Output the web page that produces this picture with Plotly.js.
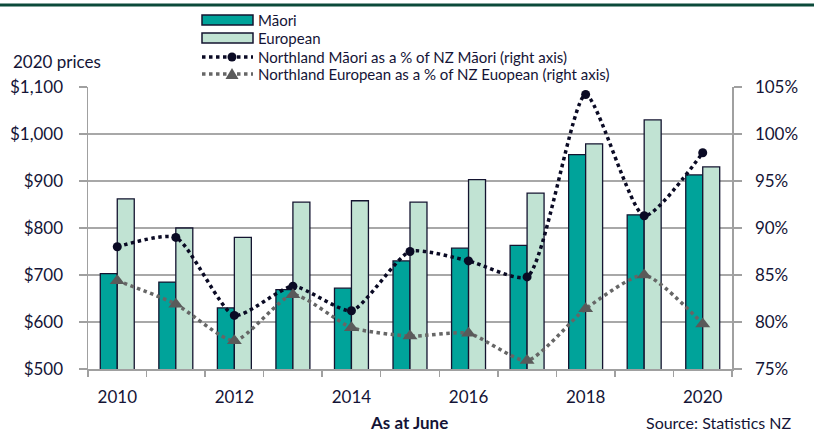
<!DOCTYPE html>
<html>
<head>
<meta charset="utf-8">
<script src="https://cdn.plot.ly/plotly-3.0.1.min.js"></script>
<style>html,body{margin:0;padding:0;background:#fff;}#chart{width:814px;height:434px;}</style>
</head>
<body>
<div id="chart"></div>
<script>
var years = [2010, 2011, 2012, 2013, 2014, 2015, 2016, 2017, 2018, 2019, 2020];
var maoriIncome = [703, 685, 630, 669, 672, 730, 757, 763, 956, 828, 913];
var europeanIncome = [862, 800, 780, 855, 858, 855, 903, 874, 979, 1030, 930];
var northlandMaoriPct = [88.0, 89.0, 80.7, 83.8, 81.2, 87.5, 86.5, 84.8, 104.2, 91.3, 98.0];
var northlandEuropeanPct = [84.4, 81.9, 78.0, 82.9, 79.4, 78.5, 78.8, 75.9, 81.4, 85.0, 79.8];
var xTickYears = [2010, 2012, 2014, 2016, 2018, 2020];
var seriesNames = ['Māori', 'European',
  'Northland Māori as a % of NZ Māori (right axis)',
  'Northland European as a % of NZ Euopean (right axis)'];

var textColor = '#141436';
var fontFam = 'Lato, "Open Sans", sans-serif';
var maoriColor = '#00A39A', euroColor = '#C1E3D3', barLine = '#141430';
var maoriLineColor = '#0a0a24', euroLineColor = '#666666', euroMarkerColor = '#5a5a5a';

// plot area geometry (pixels) used only to place the hand-made legend/annotations
var W = 814, H = 434, ML = 88, MR = 82, MT = 87, MB = 65;
var PW = W - ML - MR, PH = H - MT - MB;
function xp(px) { return (px - ML) / PW; }
function yp(py) { return (H - MB - py) / PH; }

var traces = [
  {type: 'bar', name: seriesNames[0], x: years, y: maoriIncome, showlegend: false,
   marker: {color: maoriColor, line: {color: barLine, width: 1.3}}},
  {type: 'bar', name: seriesNames[1], x: years, y: europeanIncome, showlegend: false,
   marker: {color: euroColor, line: {color: barLine, width: 1.3}}},
  {type: 'scatter', mode: 'lines+markers', name: seriesNames[2], showlegend: false,
   x: years, y: northlandMaoriPct, yaxis: 'y2',
   line: {color: maoriLineColor, width: 3.5, dash: 'dot', shape: 'spline', smoothing: 0.6},
   marker: {symbol: 'circle', size: 9, color: maoriLineColor}},
  {type: 'scatter', mode: 'lines+markers', name: seriesNames[3], showlegend: false,
   x: years, y: northlandEuropeanPct, yaxis: 'y2',
   line: {color: euroLineColor, width: 3.5, dash: 'dot', shape: 'spline', smoothing: 0.6},
   marker: {symbol: 'triangle-up', size: 13, color: euroMarkerColor}}
];

// legend rows (hand-built so the symbols match the original's wide swatches)
var legRows = [20, 38, 57, 74];
var symX0 = 202, symX1 = 253, markX = 232, textX = 259;
var shapes = [
  {type: 'line', xref: 'paper', yref: 'paper', x0: xp(-5), x1: xp(W + 5), y0: yp(5), y1: yp(5),
   line: {color: '#0b4a3a', width: 3}},
  {type: 'rect', xref: 'paper', yref: 'paper', x0: xp(symX0), x1: xp(symX1), y0: yp(legRows[0] + 5), y1: yp(legRows[0] - 5),
   fillcolor: maoriColor, line: {color: barLine, width: 1.5}},
  {type: 'rect', xref: 'paper', yref: 'paper', x0: xp(symX0), x1: xp(symX1), y0: yp(legRows[1] + 5), y1: yp(legRows[1] - 5),
   fillcolor: euroColor, line: {color: barLine, width: 1.5}},
  {type: 'line', xref: 'paper', yref: 'paper', x0: xp(symX0), x1: xp(symX1), y0: yp(legRows[2]), y1: yp(legRows[2]),
   line: {color: maoriLineColor, width: 3.5, dash: 'dot'}},
  {type: 'circle', xref: 'paper', yref: 'paper', x0: xp(markX - 4.5), x1: xp(markX + 4.5), y0: yp(legRows[2] + 4.5), y1: yp(legRows[2] - 4.5),
   fillcolor: maoriLineColor, line: {width: 0}},
  {type: 'line', xref: 'paper', yref: 'paper', x0: xp(symX0), x1: xp(symX1), y0: yp(legRows[3]), y1: yp(legRows[3]),
   line: {color: euroLineColor, width: 3.5, dash: 'dot'}},
  {type: 'path', xref: 'paper', yref: 'paper',
   path: 'M' + xp(markX) + ',' + yp(legRows[3] - 6) + ' L' + xp(markX - 6.5) + ',' + yp(legRows[3] + 5) + ' L' + xp(markX + 6.5) + ',' + yp(legRows[3] + 5) + ' Z',
   fillcolor: euroMarkerColor, line: {width: 0}}
];

var annotations = [
  {text: '2020 prices', xref: 'paper', yref: 'paper', x: xp(11), y: yp(62), xanchor: 'left', yanchor: 'middle',
   showarrow: false, font: {size: 17, color: textColor}},
  {text: 'As at June', xref: 'paper', yref: 'paper', x: xp(409), y: yp(422), xanchor: 'center', yanchor: 'middle',
   showarrow: false, font: {size: 17, color: textColor, weight: 'bold'}},
  {text: 'Source: Statistics NZ', xref: 'paper', yref: 'paper', x: xp(794), y: yp(422), xanchor: 'right', yanchor: 'middle',
   showarrow: false, font: {size: 16, color: textColor}}
];
for (var i = 0; i < seriesNames.length; i++) {
  annotations.push({text: seriesNames[i], xref: 'paper', yref: 'paper', x: xp(textX - 3), y: yp(legRows[i]),
    xanchor: 'left', yanchor: 'middle', showarrow: false, font: {size: 15, color: textColor}});
}

var layout = {
  width: W, height: H,
  margin: {l: ML, r: MR, t: MT, b: MB},
  paper_bgcolor: '#ffffff', plot_bgcolor: '#ffffff',
  font: {family: fontFam, color: textColor, size: 17},
  barmode: 'group', bargap: 0.42, bargroupgap: 0,
  showlegend: false,
  xaxis: {range: [2009.5, 2020.5], tickvals: xTickYears, ticktext: xTickYears.map(String),
          ticks: '', showgrid: false, zeroline: false, showline: true, linecolor: '#a0a0a0', linewidth: 1.5,
          tickfont: {size: 17, color: textColor}, ticklabelstandoff: 12,
          minor: {tick0: 2009.5, dtick: 1, ticks: 'outside', ticklen: 6, tickcolor: '#a0a0a0', tickwidth: 1.5, showgrid: false}},
  yaxis: {range: [500, 1100], dtick: 100, tickprefix: '$', tickformat: ',d',
          showgrid: true, gridcolor: '#a8a8a8', gridwidth: 1.5, zeroline: false,
          showline: true, linecolor: '#a0a0a0', linewidth: 1.5,
          ticks: 'outside', ticklen: 8, tickcolor: '#a0a0a0', tickwidth: 1.5,
          tickfont: {size: 17, color: textColor}, ticklabelstandoff: 12},
  yaxis2: {range: [75, 105], dtick: 5, ticksuffix: '%', overlaying: 'y', side: 'right',
           showgrid: false, zeroline: false, showline: true, linecolor: '#a0a0a0', linewidth: 1.5,
           ticks: 'outside', ticklen: 8, tickcolor: '#a0a0a0', tickwidth: 1.5,
           tickfont: {size: 17, color: textColor}, ticklabelstandoff: 10},
  shapes: shapes,
  annotations: annotations
};

Plotly.newPlot('chart', traces, layout, {displayModeBar: false, staticPlot: true});
</script>
</body>
</html>
